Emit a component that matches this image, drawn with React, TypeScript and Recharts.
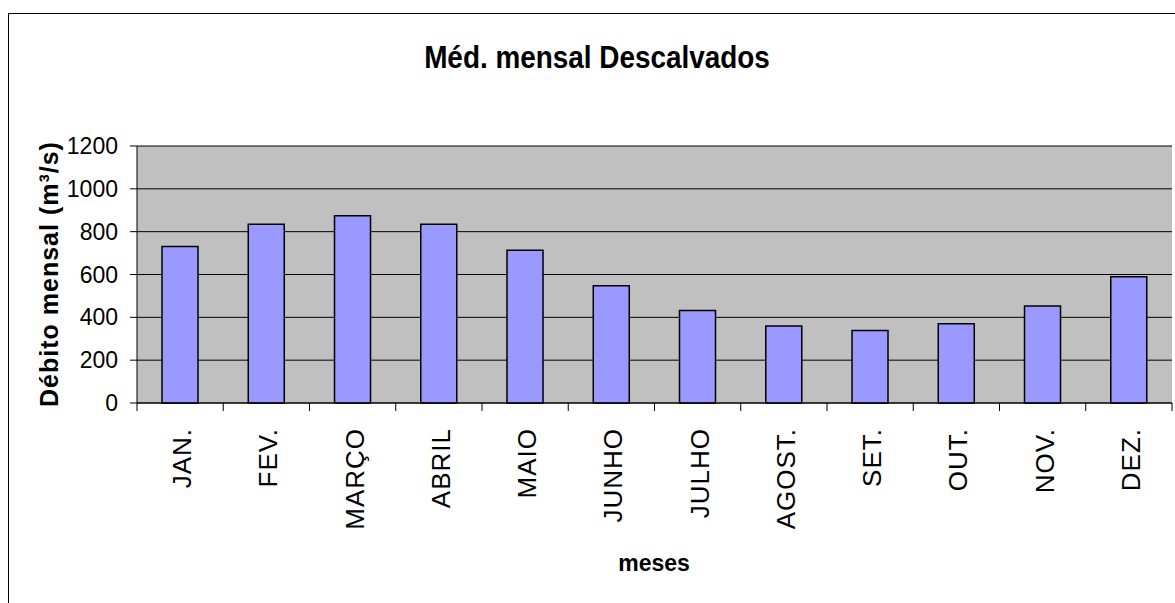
import React from 'react';
import { BarChart, Bar, XAxis, YAxis, CartesianGrid } from 'recharts';

const months = ['JAN.', 'FEV.', 'MARÇO', 'ABRIL', 'MAIO', 'JUNHO', 'JULHO', 'AGOST.', 'SET.', 'OUT.', 'NOV.', 'DEZ.'];
const debito = [731, 835, 874, 835, 713, 548, 432, 360, 339, 370, 453, 590];
const yTicks = [0, 200, 400, 600, 800, 1000, 1200];

const data = months.map((m, i) => ({ month: m, value: debito[i] }));

const FONT = '"Liberation Sans", Arial, Helvetica, sans-serif';

const XTick = (props: any) => {
  const { x, y, payload, index, width } = props;
  const half = payload && typeof payload.offset === 'number' && payload.offset > 0 ? payload.offset : width / months.length / 2;
  const last = index === months.length - 1;
  return (
    <g>
      <line x1={x - half} x2={x - half} y1={y} y2={y + 8} stroke="#000" strokeWidth={1} />
      {last && <line x1={x + half} x2={x + half} y1={y} y2={y + 8} stroke="#000" strokeWidth={1} />}
      <text
        transform={`translate(${x + 2},${y + 25}) rotate(-90)`}
        textAnchor="end"
        dominantBaseline="central"
        fontSize={26}
        letterSpacing={1}
        fontFamily={FONT}
        fill="#000"
      >
        {payload.value}
      </text>
    </g>
  );
};

export default function App() {
  return (
    <div style={{ position: 'absolute', left: 0, top: 0, width: 1175, height: 603, overflow: 'hidden', background: '#fff' }}>
      <svg width={1175} height={603} style={{ position: 'absolute', left: 0, top: 0 }}>
        <rect x={8.5} y={13.5} width={1300} height={700} fill="#fff" stroke="#000" strokeWidth={1} />
      </svg>
      <div style={{ position: 'absolute', left: 0, top: 0 }}>
        <BarChart width={1175} height={603} data={data} margin={{ top: 146, right: 3, bottom: 80, left: 77 }} barCategoryGap="29%">
          <CartesianGrid vertical={false} stroke="#000" fill="#C0C0C0" strokeWidth={1} />
          <XAxis
            dataKey="month"
            interval={0}
            height={120}
            tickLine={false}
            tickSize={0}
            tickMargin={0}
            axisLine={{ stroke: '#000' }}
            tick={<XTick />}
          />
          <YAxis
            domain={[0, 1200]}
            ticks={yTicks}
            width={60}
            tickSize={7}
            tickMargin={12}
            tickLine={{ stroke: '#000' }}
            axisLine={{ stroke: '#000' }}
            tick={{ fontSize: 23, fill: '#000', fontFamily: FONT }}
            interval={0}
          />
          <YAxis
            yAxisId="r"
            orientation="right"
            domain={[0, 1200]}
            width={0}
            tick={false}
            tickLine={false}
            axisLine={{ stroke: '#808080' }}
          />
          <Bar dataKey="value" fill="#9999FF" stroke="#000" strokeWidth={1.5} isAnimationActive={false} />
        </BarChart>
      </div>
      <svg width={1175} height={603} style={{ position: 'absolute', left: 0, top: 0, pointerEvents: 'none' }}>
        <text
          transform="translate(597,68) scale(0.9,1)"
          textAnchor="middle"
          fontSize={31}
          fontWeight="bold"
          fontFamily={FONT}
          fill="#000"
        >
          Méd. mensal Descalvados
        </text>
        <text
          transform="translate(58,274) rotate(-90)"
          textAnchor="middle"
          fontSize={25}
          fontWeight="bold"
          letterSpacing={1}
          fontFamily={FONT}
          fill="#000"
        >
          Débito mensal (m³/s)
        </text>
        <text x={654} y={571} textAnchor="middle" fontSize={23} fontWeight="bold" fontFamily={FONT} fill="#000">
          meses
        </text>
      </svg>
    </div>
  );
}
